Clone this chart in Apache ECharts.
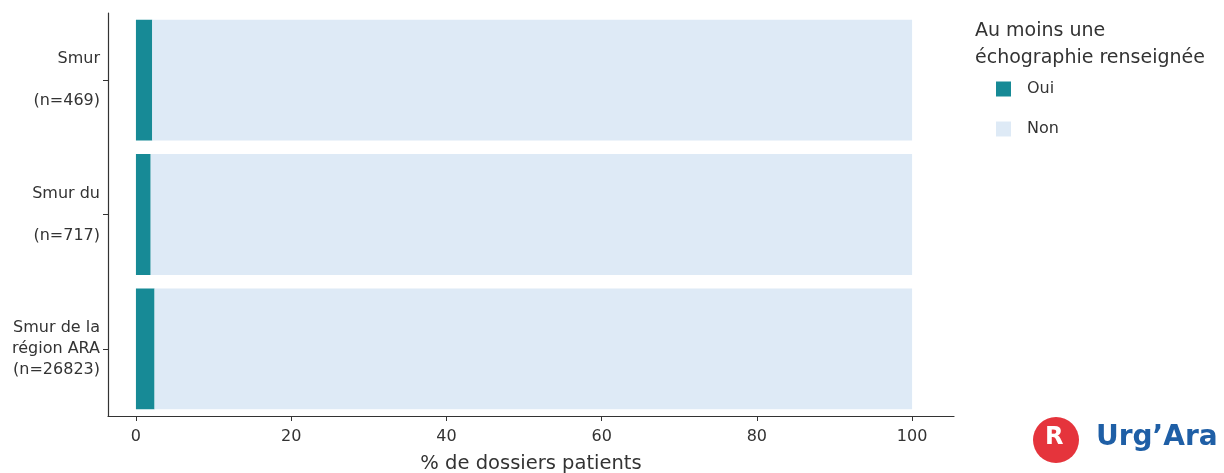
<!DOCTYPE html>
<html>
<head>
<meta charset="utf-8">
<script src="https://cdn.jsdelivr.net/npm/echarts@6/dist/echarts.min.js"></script>
<style>
  html, body { margin: 0; padding: 0; background: #fff; }
  #chart { width: 1224px; height: 473px; }
</style>
</head>
<body>
<div id="chart"></div>
<script>
// données
var categories = ['Smur\n\n(n=469)', 'Smur du\n\n(n=717)', 'Smur de la\nrégion ARA\n(n=26823)'];
var oui = [2.1, 1.9, 2.4];
var non = [97.9, 98.1, 97.6];
var xTicks = [0, 20, 40, 60, 80, 100];

var font = 'DejaVu Sans, Verdana, sans-serif';
var myChart = echarts.init(document.getElementById('chart'));
var option = {
  backgroundColor: '#fff',
  animation: false,
  grid: {
    left: 108,
    right: 270,
    top: 13,
    bottom: 57,
    outerBoundsMode: 'none'
  },
  legend: {
    orient: 'vertical',
    left: 991,
    top: 76,
    itemWidth: 15,
    itemHeight: 15,
    itemGap: 24,
    icon: 'rect',
    textStyle: {
      fontFamily: font,
      fontSize: 16,
      color: '#333',
      padding: [0, 0, 0, 11]
    },
    data: ['Oui', 'Non']
  },
  xAxis: {
    type: 'value',
    min: -3.6,
    max: 105.4,
    name: '% de dossiers patients',
    nameLocation: 'middle',
    nameGap: 38,
    nameTextStyle: { fontFamily: font, fontSize: 19.5, color: '#333' },
    splitLine: { show: false }, // pas de grille
    axisLine: { show: true, lineStyle: { color: '#333', width: 1.2 } },
    axisTick: { show: true, length: 5, lineStyle: { color: '#333' }, customValues: xTicks },
    axisLabel: { fontFamily: font, fontSize: 16, color: '#333', margin: 13, customValues: xTicks }
  },
  yAxis: {
    type: 'category',
    inverse: true,
    data: categories,
    axisLine: { show: true, onZero: false, lineStyle: { color: '#333', width: 1.2 } },
    axisTick: { show: true, length: 5, alignWithLabel: true, lineStyle: { color: '#333' } },
    axisLabel: {
      fontFamily: font,
      fontSize: 16,
      color: '#333',
      lineHeight: 21,
      margin: 8,
      align: 'right'
    }
  },
  series: [
    {
      name: 'Oui',
      type: 'bar',
      stack: 'total',
      barCategoryGap: '10%',
      itemStyle: { color: '#178a96' },
      data: oui
    },
    {
      name: 'Non',
      type: 'bar',
      stack: 'total',
      itemStyle: { color: '#deeaf6' },
      data: non
    }
  ],
  graphic: [
    {
      type: 'text',
      left: 975,
      top: 18,
      style: {
        text: 'Au moins une\néchographie renseignée',
        fontFamily: font,
        fontSize: 19,
        lineHeight: 27,
        fill: '#333'
      }
    },
    {
      // logo Urg'Ara
      type: 'circle',
      shape: { cx: 1056, cy: 440, r: 23 },
      style: { fill: '#e5343c' }
    },
    {
      type: 'text',
      left: 1045,
      top: 426,
      style: { text: 'R', fontFamily: font, fontSize: 24, fontWeight: 'bold', fill: '#fff' }
    },
    {
      type: 'text',
      left: 1096,
      top: 424,
      style: { text: 'Urg\u2019Ara', fontFamily: font, fontSize: 28, fontWeight: 'bold', fill: '#1f5fa6' }
    }
  ]
};
option && myChart.setOption(option);
</script>
</body>
</html>
